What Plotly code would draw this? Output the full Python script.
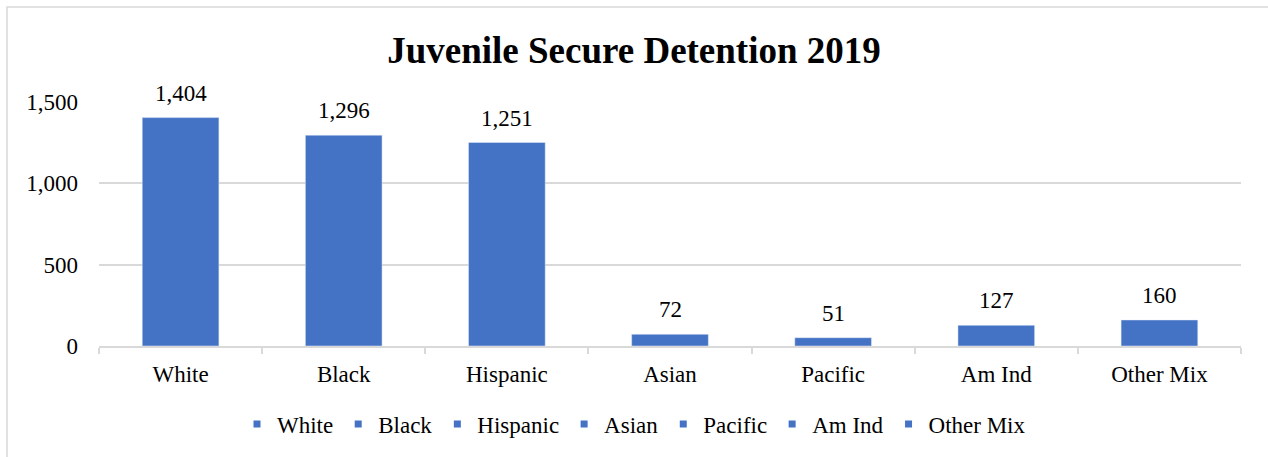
import plotly.graph_objects as go

categories = ["White", "Black", "Hispanic", "Asian", "Pacific", "Am Ind", "Other Mix"]
values = [1404, 1296, 1251, 72, 51, 127, 160]
y_ticks = [0, 500, 1000, 1500]
y_tick_labels = ["0", "500", "1,000", "1,500"]

BLUE = "#4472C4"
GRID = "#D9D9D9"
FONT = "Liberation Serif, Times New Roman, serif"
FS = 23

W, H = 1268, 457
ML, MR, MT, MB = 99, 27, 102, 111
PW, PH = W - ML - MR, H - MT - MB

fig = go.Figure()
for c, v in zip(categories, values):
    fig.add_trace(go.Bar(x=[c], y=[v], name=c, marker_color=BLUE,
                         width=0.47, showlegend=False, hoverinfo="x+y"))
    fig.add_trace(go.Scatter(x=[None], y=[None], mode="markers", name=c,
                             marker=dict(symbol="square", size=7, color=BLUE),
                             showlegend=True))
    fig.add_annotation(x=c, y=v, text=f"{v:,}", showarrow=False,
                       yanchor="bottom", yshift=10,
                       font=dict(family=FONT, size=FS, color="#000000"))

# chart border (left and top visible)
fig.add_shape(type="rect", xref="paper", yref="paper",
              x0=(7 - ML) / PW, x1=(W + 20 - ML) / PW,
              y0=(PH + MT - (H + 20)) / PH, y1=(PH + MT - 7) / PH,
              line=dict(color=GRID, width=1.5), fillcolor="rgba(0,0,0,0)", layer="below")

fig.update_layout(
    width=W, height=H,
    margin=dict(l=ML, r=MR, t=MT, b=MB),
    paper_bgcolor="white", plot_bgcolor="white",
    barmode="overlay",
    title=dict(text="<b>Juvenile Secure Detention 2019</b>", x=0.5, xanchor="center",
               y=1 - 50 / H, yanchor="middle", yref="container",
               font=dict(family=FONT, size=37, color="#000000")),
    font=dict(family=FONT, size=FS, color="#000000"),
    legend=dict(orientation="h", x=0.5, xanchor="center", xref="container",
                y=1 - 424 / H, yanchor="middle", yref="container",
                font=dict(family=FONT, size=FS, color="#000000"),
                itemwidth=30, traceorder="normal"),
    showlegend=True,
)
fig.update_xaxes(categoryorder="array", categoryarray=categories,
                 showline=True, linecolor=GRID, linewidth=1.5,
                 ticks="outside", tickson="boundaries", ticklen=6, tickcolor=GRID,
                 tickwidth=1.5, showgrid=False, ticklabelstandoff=7,
                 tickfont=dict(family=FONT, size=FS, color="#000000"))
fig.update_yaxes(range=[0, 1500], tickvals=y_ticks, ticktext=y_tick_labels,
                 showgrid=True, gridcolor=GRID, gridwidth=1.5, zeroline=False,
                 showline=False, ticks="", ticklabelstandoff=20,
                 tickfont=dict(family=FONT, size=FS, color="#000000"))

fig.write_html("out.html")
